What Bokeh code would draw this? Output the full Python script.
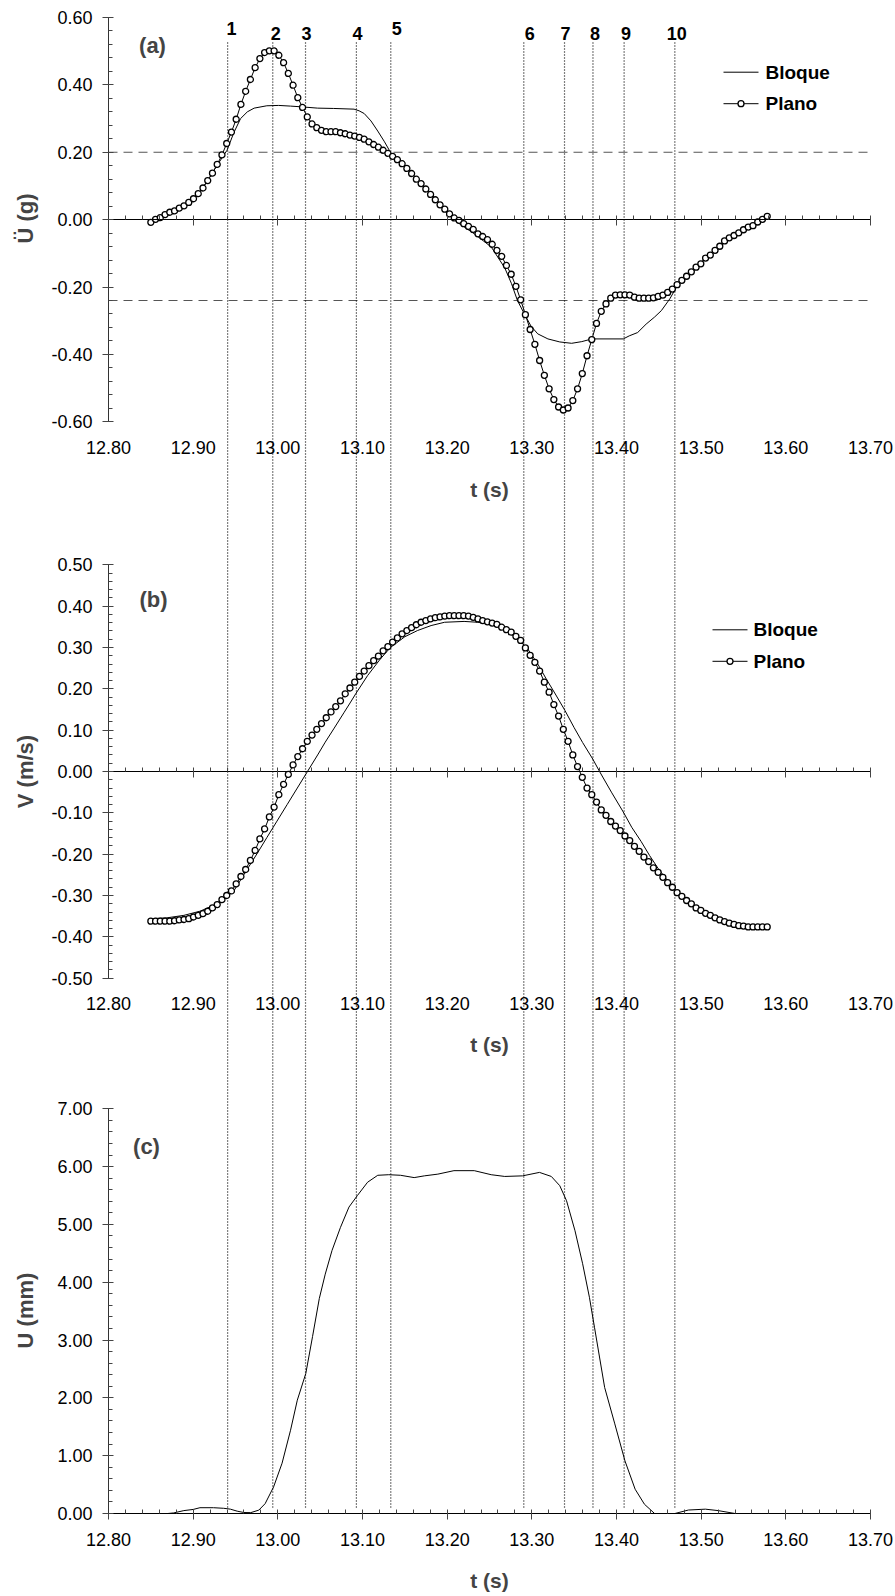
import numpy as np
from bokeh.plotting import figure
from bokeh.models import Range1d, LinearAxis, FixedTicker, NumeralTickFormatter, Label
from bokeh.embed import file_html
from bokeh.resources import INLINE

# ---------------- data ----------------
T0_PLANO = 12.850      # first sample of the "Plano" record (s)
DT_PLANO = 0.0056      # sampling interval of the "Plano" record (s)

ACC_PLANO = [
    -0.008, 0.001, 0.006, 0.015, 0.022, 0.026, 0.034, 0.041, 0.051, 0.062,
    0.077, 0.094, 0.116, 0.138, 0.164, 0.192, 0.226, 0.260, 0.298, 0.342,
    0.381, 0.416, 0.451, 0.478, 0.496, 0.501, 0.501, 0.488, 0.466, 0.434,
    0.399, 0.362, 0.333, 0.305, 0.284, 0.273, 0.265, 0.261, 0.261, 0.261,
    0.258, 0.255, 0.251, 0.248, 0.244, 0.239, 0.231, 0.223, 0.215, 0.206,
    0.197, 0.188, 0.178, 0.166, 0.152, 0.137, 0.120, 0.107, 0.091, 0.075,
    0.059, 0.044, 0.031, 0.017, 0.005, -0.002, -0.012, -0.020, -0.029, -0.042,
    -0.050, -0.059, -0.073, -0.091, -0.109, -0.136, -0.162, -0.198, -0.238, -0.282,
    -0.326, -0.370, -0.418, -0.462, -0.502, -0.534, -0.556, -0.565, -0.559, -0.537,
    -0.502, -0.457, -0.404, -0.356, -0.308, -0.272, -0.250, -0.233, -0.224, -0.223,
    -0.223, -0.224, -0.230, -0.233, -0.233, -0.233, -0.232, -0.228, -0.224, -0.216,
    -0.206, -0.193, -0.180, -0.168, -0.155, -0.141, -0.131, -0.114, -0.105, -0.091,
    -0.079, -0.063, -0.054, -0.047, -0.039, -0.030, -0.022, -0.018, -0.007, 0.001,
    0.010,
]

VEL_PLANO = [
    -0.362, -0.362, -0.362, -0.362, -0.362, -0.361, -0.359, -0.358, -0.356, -0.352,
    -0.348, -0.344, -0.338, -0.330, -0.322, -0.310, -0.300, -0.289, -0.272, -0.254,
    -0.237, -0.215, -0.191, -0.163, -0.139, -0.110, -0.086, -0.056, -0.031, -0.007,
    0.016, 0.036, 0.055, 0.073, 0.088, 0.102, 0.116, 0.130, 0.144, 0.157,
    0.171, 0.188, 0.202, 0.216, 0.230, 0.243, 0.256, 0.268, 0.279, 0.292,
    0.302, 0.313, 0.323, 0.333, 0.341, 0.348, 0.355, 0.361, 0.365, 0.369,
    0.372, 0.374, 0.376, 0.377, 0.377, 0.377, 0.377, 0.376, 0.373, 0.369,
    0.365, 0.362, 0.359, 0.356, 0.349, 0.343, 0.337, 0.327, 0.317, 0.299,
    0.281, 0.264, 0.243, 0.216, 0.192, 0.162, 0.134, 0.102, 0.073, 0.040,
    0.012, -0.014, -0.040, -0.056, -0.074, -0.093, -0.106, -0.121, -0.132, -0.143,
    -0.156, -0.167, -0.181, -0.193, -0.207, -0.218, -0.233, -0.244, -0.256, -0.269,
    -0.280, -0.293, -0.302, -0.312, -0.320, -0.330, -0.336, -0.343, -0.348, -0.354,
    -0.359, -0.363, -0.367, -0.370, -0.373, -0.374, -0.376, -0.376, -0.376, -0.376,
    -0.376,
]

T_ACC_BLOQUE = [
    12.850, 12.861, 12.872, 12.884, 12.895, 12.906, 12.917, 12.929, 12.940, 12.948,
    12.956, 12.964, 12.972, 12.987, 13.001, 13.015, 13.027, 13.047, 13.066, 13.090,
    13.096, 13.102, 13.110, 13.118, 13.126, 13.133, 13.141, 13.157, 13.173, 13.189,
    13.197, 13.212, 13.232, 13.252, 13.268, 13.276, 13.283, 13.291, 13.299, 13.307,
    13.319, 13.333, 13.347, 13.359, 13.368, 13.374, 13.408, 13.415, 13.425, 13.435,
    13.445, 13.453, 13.463, 13.472, 13.483, 13.494, 13.505, 13.516, 13.528, 13.539,
    13.550, 13.561, 13.572, 13.578,
]
ACC_BLOQUE = [
    -0.008, 0.006, 0.022, 0.030, 0.051, 0.077, 0.116, 0.164, 0.206, 0.258,
    0.300, 0.320, 0.331, 0.338, 0.339, 0.337, 0.335, 0.331, 0.330, 0.328,
    0.323, 0.315, 0.293, 0.263, 0.231, 0.200, 0.178, 0.142, 0.097, 0.055,
    0.025, -0.008, -0.042, -0.081, -0.143, -0.190, -0.240, -0.279, -0.316, -0.339,
    -0.354, -0.363, -0.367, -0.362, -0.356, -0.354, -0.354, -0.345, -0.335, -0.310,
    -0.289, -0.270, -0.235, -0.195, -0.168, -0.141, -0.114, -0.091, -0.063, -0.047,
    -0.030, -0.018, 0.001, 0.010,
]

T_VEL_BLOQUE = [
    12.850, 12.869, 12.889, 12.908, 12.924, 12.940, 12.948, 12.964, 12.976, 12.987,
    12.999, 13.011, 13.023, 13.035, 13.047, 13.056, 13.066, 13.078, 13.086, 13.092,
    13.106, 13.121, 13.133, 13.150, 13.165, 13.181, 13.197, 13.220, 13.236, 13.252,
    13.268, 13.283, 13.295, 13.307, 13.317, 13.327, 13.339, 13.350, 13.360, 13.372,
    13.380, 13.394, 13.408, 13.418, 13.429, 13.439, 13.449, 13.461, 13.469, 13.485,
    13.500, 13.524, 13.548, 13.564, 13.578,
]
VEL_BLOQUE = [
    -0.356, -0.354, -0.348, -0.338, -0.324, -0.302, -0.289, -0.236, -0.197, -0.160,
    -0.120, -0.080, -0.040, 0.000, 0.040, 0.071, 0.103, 0.142, 0.168, 0.188,
    0.232, 0.272, 0.300, 0.326, 0.341, 0.353, 0.361, 0.363, 0.361, 0.356,
    0.345, 0.323, 0.297, 0.260, 0.224, 0.190, 0.148, 0.106, 0.070, 0.030,
    0.000, -0.050, -0.098, -0.135, -0.169, -0.203, -0.234, -0.266, -0.286, -0.316,
    -0.338, -0.359, -0.370, -0.373, -0.374,
]

T_DIS_BLOQUE = [
    12.850, 12.870, 12.877, 12.889, 12.900, 12.908, 12.924, 12.936, 12.944, 12.952,
    12.960, 12.968, 12.9775, 12.985, 12.995, 13.005, 13.015, 13.023, 13.033, 13.041,
    13.049, 13.056, 13.064, 13.074, 13.084, 13.094, 13.106, 13.118, 13.131, 13.145,
    13.161, 13.173, 13.189, 13.208, 13.232, 13.252, 13.268, 13.289, 13.309, 13.323,
    13.333, 13.341, 13.351, 13.360, 13.368, 13.374, 13.386, 13.398, 13.410, 13.422,
    13.433, 13.445, 13.469, 13.485, 13.505, 13.520, 13.540,
]
DIS_BLOQUE = [
    0.00, 0.00, 0.01, 0.05, 0.07, 0.10, 0.10, 0.09, 0.075, 0.04,
    0.017, 0.015, 0.058, 0.17, 0.46, 0.87, 1.44, 1.96, 2.42, 3.06,
    3.72, 4.14, 4.55, 4.95, 5.30, 5.50, 5.73, 5.85, 5.86, 5.85,
    5.81, 5.84, 5.87, 5.93, 5.93, 5.86, 5.83, 5.84, 5.90, 5.83,
    5.67, 5.41, 4.89, 4.32, 3.74, 3.22, 2.18, 1.55, 0.91, 0.42,
    0.16, 0.00, 0.00, 0.06, 0.075, 0.05, 0.00,
]

EVENT_T = [12.9407, 12.9940, 13.0327, 13.0928, 13.1334,
           13.2905, 13.3386, 13.3722, 13.4090, 13.4689]
EVENT_LABELS = ["1", "2", "3", "4", "5", "6", "7", "8", "9", "10"]
ACC_LIMITS = [0.20, -0.24]

X_TICKS = [12.8, 12.9, 13.0, 13.1, 13.2, 13.3, 13.4, 13.5, 13.6, 13.7]
ACC_TICKS = [-0.6, -0.4, -0.2, 0.0, 0.2, 0.4, 0.6]
VEL_TICKS = [-0.5, -0.4, -0.3, -0.2, -0.1, 0.0, 0.1, 0.2, 0.3, 0.4, 0.5]
DIS_TICKS = [0.0, 1.0, 2.0, 3.0, 4.0, 5.0, 6.0, 7.0]

# ---------------- layout (pixels) ----------------
W, H = 895, 1596
AX_L, AX_R = 108, 870          # pixel columns of 12.80 and 13.70
X_LO, X_HI = 12.8, 13.7
FONT = "Liberation Sans"
KX = (X_HI - X_LO) / (AX_R - AX_L)
MARKER = dict(marker="circle", size=6, fill_color="white", line_color="black", line_width=1.3)


def sx(px):
    return X_LO + (px - AX_L) * KX


def sy(py):
    return H - py


def panel_range(lo, hi, top_px, bot_px):
    s = (hi - lo) / (bot_px - top_px)
    return Range1d(start=lo - (H - bot_px) * s, end=hi + top_px * s)


def minor_of(major, n=5):
    out = []
    for a, b in zip(major[:-1], major[1:]):
        for k in range(1, n):
            out.append(round(a + (b - a) * k / n, 4))
    return out


# the frame covers the whole canvas so nothing is clipped
p = figure(width=W, height=H, x_range=Range1d(sx(0), sx(W)), y_range=Range1d(0, H),
           x_axis_location=None, y_axis_location=None, toolbar_location=None,
           output_backend="svg", min_border_left=0, min_border_right=0,
           min_border_top=0, min_border_bottom=0, min_border=0, outline_line_color=None,
           background_fill_color="white", border_fill_color="white")
p.grid.visible = False

PANELS = {
    "a": (-0.6, 0.6, 17.0, 421.3, ACC_TICKS),
    "b": (-0.5, 0.5, 564.3, 977.7, VEL_TICKS),
    "c": (0.0, 7.0, 1108.3, 1513.0, DIS_TICKS),
}
p.extra_y_ranges = {k: panel_range(v[0], v[1], v[2], v[3]) for k, v in PANELS.items()}

for name, (lo, hi, top_px, bot_px, ticks) in PANELS.items():
    yax = LinearAxis(y_range_name=name, fixed_location=X_LO, bounds=(lo, hi),
                     ticker=FixedTicker(ticks=ticks, minor_ticks=minor_of(ticks)),
                     formatter=NumeralTickFormatter(format="0.00"),
                     axis_line_color="#333333", axis_line_width=1,
                     major_tick_line_color="#444444", minor_tick_line_color="#444444",
                     major_tick_in=5, major_tick_out=6, minor_tick_in=4, minor_tick_out=0,
                     major_label_standoff=10, major_label_text_font=FONT,
                     major_label_text_font_size="18px", major_label_text_color="black")
    p.add_layout(yax, "left")
    zax = LinearAxis(y_range_name=name, fixed_location=0.0, bounds=(X_LO, X_HI),
                     ticker=FixedTicker(ticks=X_TICKS, minor_ticks=minor_of(X_TICKS)),
                     axis_line_color="black", axis_line_width=1.2,
                     major_tick_line_color="#444444", minor_tick_line_color="#444444",
                     major_tick_in=4, major_tick_out=6, minor_tick_in=4, minor_tick_out=0,
                     major_label_text_color=None, major_label_text_font_size="1px")
    p.add_layout(zax, "below")
    lax = LinearAxis(y_range_name=name, fixed_location=lo, bounds=(X_LO, X_HI),
                     ticker=FixedTicker(ticks=X_TICKS, minor_ticks=[]),
                     formatter=NumeralTickFormatter(format="0.00"),
                     axis_line_color=None, major_tick_line_color=None, minor_tick_line_color=None,
                     major_tick_in=0, major_tick_out=0, minor_tick_in=0, minor_tick_out=0,
                     major_label_standoff=19, major_label_text_font=FONT,
                     major_label_text_font_size="18px", major_label_text_color="black")
    p.add_layout(lax, "below")

t_plano = T0_PLANO + DT_PLANO * np.arange(len(ACC_PLANO))

# horizontal dashed limits in panel (a)
p.segment(x0=[X_LO] * len(ACC_LIMITS), x1=[X_HI] * len(ACC_LIMITS), y0=ACC_LIMITS, y1=ACC_LIMITS,
          y_range_name="a", line_color="#555555", line_width=1.2, line_dash="9 6")

# vertical event lines through all panels
n_ev = len(EVENT_T)
p.segment(x0=EVENT_T, x1=EVENT_T, y0=[sy(1507)] * n_ev, y1=[sy(40)] * n_ev,
          line_color="black", line_width=1.2, line_dash="1 2")

# panel (a)
p.line(T_ACC_BLOQUE, ACC_BLOQUE, y_range_name="a", line_color="black", line_width=1)
p.line(t_plano, ACC_PLANO, y_range_name="a", line_color="black", line_width=1)
p.scatter(t_plano, ACC_PLANO, y_range_name="a", **MARKER)

# panel (b)
p.line(T_VEL_BLOQUE, VEL_BLOQUE, y_range_name="b", line_color="black", line_width=1)
p.line(t_plano, VEL_PLANO, y_range_name="b", line_color="black", line_width=1)
p.scatter(t_plano, VEL_PLANO, y_range_name="b", **MARKER)

# panel (c)
p.line(T_DIS_BLOQUE, DIS_BLOQUE, y_range_name="c", line_color="black", line_width=1)

# manual legends (pixel layout)
for (lx0, lx1, ty, tx) in [(723, 758, 71.7, 765), (712, 747, 629.3, 753)]:
    y_b = sy(ty)
    y_p = sy(ty + 31.5)
    p.segment(x0=[sx(lx0)], x1=[sx(lx1)], y0=[y_b], y1=[y_b], line_color="black", line_width=1)
    p.segment(x0=[sx(lx0)], x1=[sx(lx1)], y0=[y_p], y1=[y_p], line_color="black", line_width=1)
    p.scatter([sx((lx0 + lx1) / 2)], [y_p], **MARKER)
    for txt, yy in (("Bloque", y_b), ("Plano", y_p)):
        p.add_layout(Label(x=sx(tx), y=yy, text=txt, text_font=FONT, text_font_size="19px",
                           text_font_style="bold", text_align="left", text_baseline="middle",
                           text_color="black"))

# event numbers
NUM_DX = [4, 3, 1, 1, 6, 6, 1, 2, 2, 2]
NUM_Y = [28, 33, 33, 33, 28, 33, 33, 33, 33, 33]
for t, lab, dx, yy in zip(EVENT_T, EVENT_LABELS, NUM_DX, NUM_Y):
    p.add_layout(Label(x=t, y=sy(yy), x_offset=dx, text=lab, text_font=FONT,
                       text_font_size="18px", text_font_style="bold",
                       text_align="center", text_baseline="middle", text_color="black"))

# panel tags
for txt, px, py in (("(a)", 152, 45), ("(b)", 153, 599), ("(c)", 146, 1146)):
    p.add_layout(Label(x=sx(px), y=sy(py), text=txt, text_font=FONT, text_font_size="22px",
                       text_font_style="bold", text_align="center", text_baseline="middle"))

# axis titles
for txt, py in (("Ü (g)", 218), ("V (m/s)", 771), ("U (mm)", 1310)):
    p.add_layout(Label(x=sx(25), y=sy(py), text=txt, angle=np.pi / 2, text_font=FONT,
                       text_font_size="22px", text_font_style="bold",
                       text_align="center", text_baseline="middle"))
for py in (489, 1044, 1580):
    p.add_layout(Label(x=sx(489), y=sy(py), text="t (s)", text_font=FONT, text_font_size="21px",
                       text_font_style="bold", text_align="center", text_baseline="middle"))

open("out.html", "w").write(file_html(p, INLINE))
